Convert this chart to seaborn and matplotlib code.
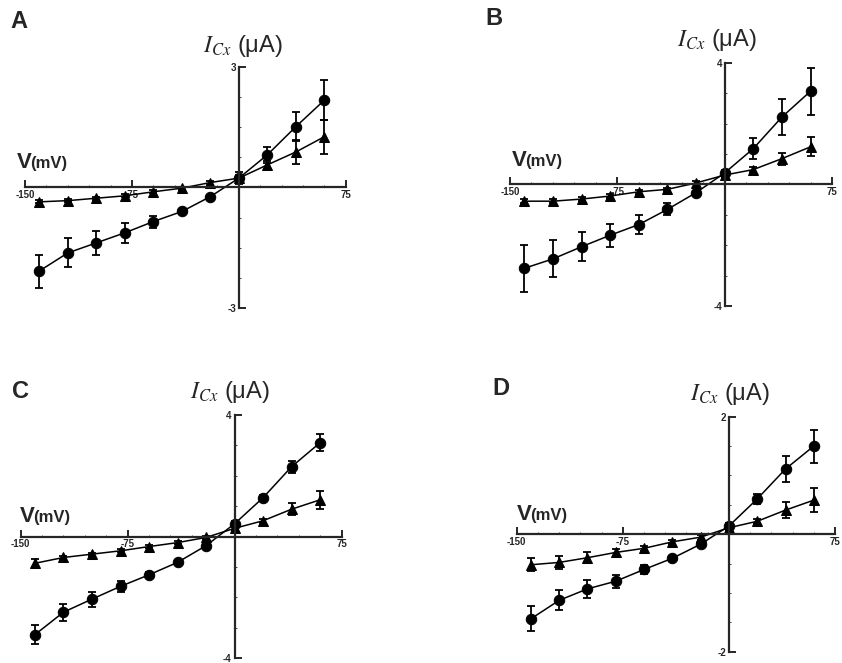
import seaborn as sns
import matplotlib.pyplot as plt
import numpy as np

sns.set_style('white')
plt.rcParams['font.family'] = ['Liberation Sans', 'DejaVu Sans']
plt.rcParams['mathtext.fontset'] = 'stix'

volts = [-140, -120, -100, -80, -60, -40, -20, 0, 20, 40, 60]

# panel A
a_circ = [-2.08, -1.63, -1.38, -1.13, -0.85, -0.60, -0.23, 0.23, 0.81, 1.51, 2.17]
a_circ_err = [0.41, 0.36, 0.30, 0.25, 0.15, 0.06, 0.04, 0.15, 0.20, 0.36, 0.50]
a_tri = [-0.36, -0.33, -0.27, -0.21, -0.11, -0.02, 0.12, 0.23, 0.56, 0.88, 1.26]
a_tri_err = [0.04, 0.04, 0.04, 0.04, 0.04, 0.04, 0.05, 0.08, 0.10, 0.30, 0.42]

# panel B
b_circ = [-2.76, -2.45, -2.05, -1.67, -1.32, -0.82, -0.27, 0.38, 1.18, 2.22, 3.07]
b_circ_err = [0.77, 0.61, 0.47, 0.38, 0.31, 0.20, 0.05, 0.10, 0.34, 0.60, 0.78]
b_tri = [-0.55, -0.55, -0.48, -0.38, -0.24, -0.16, 0.05, 0.31, 0.49, 0.85, 1.24]
b_tri_err = [0.06, 0.06, 0.06, 0.06, 0.06, 0.06, 0.05, 0.08, 0.08, 0.20, 0.31]

# panel C
c_circ = [-3.23, -2.49, -2.06, -1.64, -1.26, -0.85, -0.30, 0.42, 1.28, 2.30, 3.09]
c_circ_err = [0.31, 0.28, 0.25, 0.19, 0.08, 0.06, 0.06, 0.08, 0.08, 0.20, 0.29]
c_tri = [-0.88, -0.69, -0.58, -0.47, -0.33, -0.20, -0.03, 0.27, 0.52, 0.90, 1.21]
c_tri_err = [0.13, 0.06, 0.05, 0.05, 0.04, 0.04, 0.04, 0.06, 0.06, 0.19, 0.30]

# panel D
d_circ = [-1.44, -1.125, -0.93, -0.80, -0.60, -0.41, -0.17, 0.14, 0.60, 1.11, 1.50]
d_circ_err = [0.21, 0.17, 0.15, 0.11, 0.07, 0.04, 0.04, 0.05, 0.08, 0.22, 0.28]
d_tri = [-0.52, -0.48, -0.40, -0.31, -0.24, -0.13, -0.05, 0.11, 0.22, 0.41, 0.58]
d_tri_err = [0.11, 0.11, 0.09, 0.06, 0.04, 0.04, 0.04, 0.04, 0.04, 0.13, 0.20]

panels = [
    ('A', a_circ, a_circ_err, a_tri, a_tri_err, 3, [0.0297, 0.5354, 0.381, 0.364]),
    ('B', b_circ, b_circ_err, b_tri, b_tri_err, 4, [0.6057, 0.5385, 0.3824, 0.3665]),
    ('C', c_circ, c_circ_err, c_tri, c_tri_err, 4, [0.0246, 0.0075, 0.381, 0.3665]),
    ('D', d_circ, d_circ_err, d_tri, d_tri_err, 2, [0.6137, 0.017, 0.378, 0.3545]),
]

fig = plt.figure(figsize=(8.42, 6.63), dpi=100)

for lab, circ, circ_err, tri, tri_err, ymax, pos in panels:
    ax = fig.add_axes(pos)
    ax.patch.set_alpha(0)
    sns.lineplot(x=volts, y=tri, ax=ax, color='black', marker='^', markersize=7.5,
                 markeredgecolor='black', linewidth=1.1, clip_on=False)
    sns.lineplot(x=volts, y=circ, ax=ax, color='black', marker='o', markersize=7.5,
                 markeredgecolor='black', linewidth=1.1, clip_on=False)
    ax.errorbar(volts, tri, yerr=tri_err, fmt='none', ecolor='black',
                elinewidth=1.3, capsize=3, capthick=1.3, clip_on=False)
    ax.errorbar(volts, circ, yerr=circ_err, fmt='none', ecolor='black',
                elinewidth=1.3, capsize=3, capthick=1.3, clip_on=False)

    ax.set_xlim(-150, 75)
    ax.set_ylim(-ymax, ymax)
    ax.spines['left'].set_position(('data', 0))
    ax.spines['bottom'].set_position(('data', 0))
    ax.spines['right'].set_visible(False)
    ax.spines['top'].set_visible(False)
    ax.spines['left'].set_linewidth(1.6)
    ax.spines['bottom'].set_linewidth(1.6)
    ax.set_xticks([-150, -75, 75])
    ax.set_xticklabels(['-150', '-75', '75'])
    ax.set_yticks([-ymax, ymax])
    ax.set_yticklabels([str(-ymax), str(ymax)])
    ax.set_xticks(np.arange(-150, 76, 15), minor=True)
    ax.set_yticks(np.linspace(-ymax, ymax, 9), minor=True)
    ax.tick_params(which='major', direction='in', length=5, width=1.4,
                   labelsize=7, pad=2, bottom=True, left=True)
    ax.tick_params(which='minor', direction='in', length=1.5, width=0.6,
                   bottom=True, left=True)
    for t in ax.get_xticklabels() + ax.get_yticklabels():
        t.set_fontweight('bold')
    ax.set_xlabel('')
    ax.set_ylabel('')

# panel letters, axis titles (pixel positions from the top-left)
letters = [('A', 10, 28), ('B', 485, 25), ('C', 12, 398), ('D', 492, 395)]
for s, px, py in letters:
    fig.text(px / 842, 1 - py / 663, s, fontsize=17, fontweight='bold')

ylabels = [(203, 52), (677, 46), (190, 398), (690, 400)]
for px, py in ylabels:
    fig.text(px / 842, 1 - py / 663, r'$I_{Cx}$ (μA)', fontsize=17)

vlabels = [(17, 168), (512, 166), (20, 522), (517, 520)]
for px, py in vlabels:
    fig.text(px / 842, 1 - py / 663, 'V', fontsize=16, fontweight='bold')
    fig.text((px + 13) / 842, 1 - py / 663, '(mV)', fontsize=12, fontweight='bold')

fig.savefig('out.png', dpi=100)
